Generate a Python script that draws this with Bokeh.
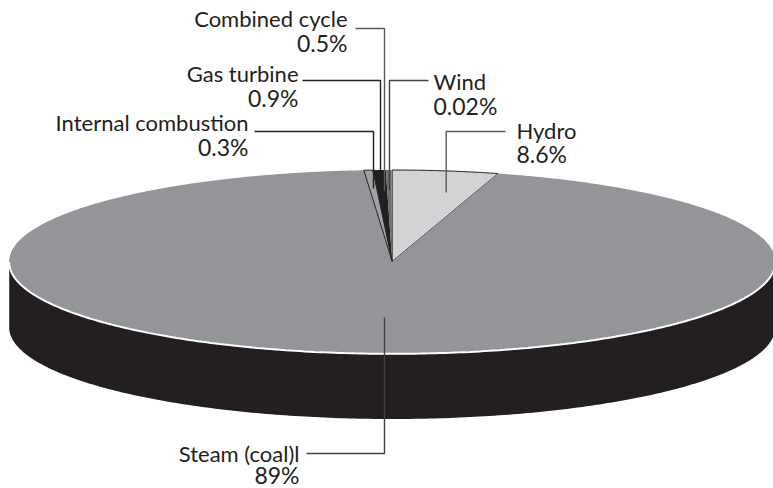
import numpy as np
from bokeh.plotting import figure
from bokeh.embed import file_html
from bokeh.resources import INLINE
from bokeh.core.properties import value

# Labels and the percentages printed on the chart, clockwise from twelve o'clock
categories = ["Hydro", "Steam (coal)l", "Internal combustion", "Gas turbine", "Combined cycle", "Wind"]
printed = ["8.6%", "89%", "0.3%", "0.9%", "0.5%", "0.02%"]
# Share of the circle each slice actually occupies in the picture (percent)
drawn_share = [4.46, 94.36, 0.375, 0.54, 0.23, 0.035]
colors = ["#d1d3d4", "#939598", "#a0a2a5", "#231f20", "#6d6e71", "#808285"]

CX, CY, RX, RY, DEPTH = 391.7, 261.0, 383.0, 91.5, 66.0
FONT = "Lato"
DARK = "#231f20"

p = figure(width=773, height=488, x_range=(0, 773), y_range=(488, 0),
           output_backend="svg", toolbar_location=None, min_border=0)
p.axis.visible = False
p.grid.visible = False
p.outline_line_color = None
p.background_fill_color = None
p.border_fill_color = None

# Side wall
t = np.linspace(0, np.pi, 240)
sx = CX + RX * np.cos(t)
sy = CY + RY * np.sin(t)
p.patch(np.r_[sx, sx[::-1]], np.r_[sy, sy[::-1] + DEPTH], fill_color=DARK, line_color=None)


def sector(a0, a1):
    th = np.radians(np.linspace(a0, a1, max(3, int(abs(a1 - a0) * 3))))
    return np.r_[CX, CX + RX * np.sin(th)], np.r_[CY, CY - RY * np.cos(th)]


edges = np.cumsum([0] + drawn_share) * 3.6
for i, cat in enumerate(categories):
    x, y = sector(edges[i], edges[i + 1])
    outlined = cat in ("Hydro", "Internal combustion")
    p.patch(x, y, fill_color=colors[i], line_color=DARK if outlined else None, line_width=1)

# White rim between top face and wall
p.line(sx, sy + 0.8, line_color="white", line_width=2)

# Leader lines
leader_xs = [[445.7, 445.7, 505], [384, 384, 306], [373, 373, 254], [380, 380, 302], [384, 384, 355], [389, 389, 428]]
leader_ys = [[192, 131, 131], [317, 453, 453], [188, 131, 131], [190, 80, 80], [190, 28, 28], [190, 80, 80]]
leader_cols = ["#58595b", "#414042", DARK, DARK, "#58595b", "#414042"]
for lx, ly, c in zip(leader_xs, leader_ys, leader_cols):
    p.line(lx, ly, line_color=c, line_width=1.4)

# Labels
lab_x = [516, 299, 248, 298, 347, 433]
lab_y = [130, 453, 122, 73, 18, 81]
val_y = [153, 474, 146, 97, 42, 105]
aligns = ["left", "right", "right", "right", "right", "left"]
for i, c in enumerate(categories):
    p.text([lab_x[i]], [lab_y[i]], text=[c], text_font=value(FONT), text_font_size="22px",
           text_color=DARK, text_align=aligns[i], text_baseline="middle")
    p.text([lab_x[i]], [val_y[i]], text=[printed[i]], text_font=value(FONT), text_font_size="23px",
           text_color=DARK, text_align=aligns[i], text_baseline="middle")

open("out.html", "w").write(file_html(p, INLINE))
